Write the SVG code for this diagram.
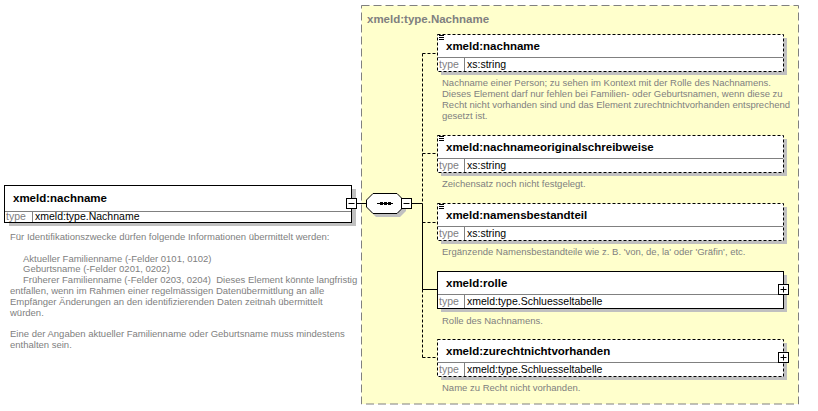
<svg xmlns="http://www.w3.org/2000/svg" width="818" height="411" viewBox="0 0 818 411">
<defs>
<style>
.yellow{fill:#FFFFCC;stroke:#808080;stroke-width:1;stroke-dasharray:8,4}
.shadow{fill:#c0c0c0}
.box{fill:#fff;stroke:#000;stroke-width:1}
.opt{stroke-dasharray:3,2}
.div{stroke:#808080;stroke-width:1;fill:none}
.title{font-family:"Liberation Sans",Arial,sans-serif;font-size:11.5px;font-weight:bold;fill:#000}
.gtitle{font-family:"Liberation Sans",Arial,sans-serif;font-size:11.5px;font-weight:bold;fill:#808080}
.tl{font-family:"Liberation Sans",Arial,sans-serif;font-size:10.5px;fill:#808080}
.tv{font-family:"Liberation Sans",Arial,sans-serif;font-size:10.5px;fill:#000}
.desc{font-family:"Liberation Sans",Arial,sans-serif;font-size:9.5px;fill:#808080;white-space:pre}
.conn{stroke:#000;stroke-width:1;fill:none}
.dash{stroke-dasharray:3,2}
.btn{fill:#fff;stroke:#000;stroke-width:1}
.ico{stroke:#000;stroke-width:1}
</style>
</defs>
<rect x="0" y="0" width="818" height="411" fill="#fff"/>

<g id="type-Nachname">
<rect class="yellow" x="361.5" y="5.5" width="437" height="398.5"/>
<text class="gtitle" x="367" y="23">xmeld:type.Nachname</text>
</g>

<g id="connectors">
<line class="conn" x1="356.5" y1="203.5" x2="367" y2="203.5"/>
<line class="conn" x1="411.5" y1="203.5" x2="422.5" y2="203.5"/>
<line class="conn dash" x1="422.5" y1="53.5" x2="422.5" y2="203.5"/>
<line class="conn" x1="422.5" y1="203.5" x2="422.5" y2="289.5"/>
<line class="conn dash" x1="422.5" y1="289.5" x2="422.5" y2="357.5"/>
<line class="conn dash" x1="422.5" y1="53.5" x2="437" y2="53.5"/>
<line class="conn dash" x1="422.5" y1="153.5" x2="437" y2="153.5"/>
<line class="conn dash" x1="422.5" y1="222.5" x2="437" y2="222.5"/>
<line class="conn" x1="422.5" y1="289.5" x2="437" y2="289.5"/>
<line class="conn dash" x1="422.5" y1="357.5" x2="437" y2="357.5"/>
</g>

<g id="root-nachname">
<rect class="shadow" x="9" y="189" width="347" height="37"/>
<rect class="box" x="4.5" y="185.5" width="347" height="37"/>
<line class="div" x1="5" y1="211.5" x2="351" y2="211.5"/>
<line class="div" x1="32.5" y1="212" x2="32.5" y2="222"/>
<text class="title" x="13" y="201.5">xmeld:nachname</text>
<text class="tl" x="6" y="219.5">type</text>
<text class="tv" x="35" y="219.5">xmeld:type.Nachname</text>
<rect class="btn" x="346.5" y="198.5" width="10" height="10"/>
<line class="ico" x1="348.5" y1="203.5" x2="354.5" y2="203.5"/>
<text class="desc" x="10" y="240">Für Identifikationszwecke dürfen folgende Informationen übermittelt werden:</text>
<text class="desc" x="23" y="261.6">Aktueller Familienname (-Felder 0101, 0102)</text>
<text class="desc" x="23" y="272.4">Geburtsname (-Felder 0201, 0202)</text>
<text class="desc" x="23" y="283.2">Früherer Familienname (-Felder 0203, 0204)  Dieses Element könnte langfristig</text>
<text class="desc" x="10" y="294">entfallen, wenn im Rahmen einer regelmässigen Datenübermittlung an alle</text>
<text class="desc" x="10" y="304.8">Empfänger Änderungen an den identifizierenden Daten zeitnah übermittelt</text>
<text class="desc" x="10" y="315.6">würden.</text>
<text class="desc" x="10" y="337.2">Eine der Angaben aktueller Familienname oder Geburtsname muss mindestens</text>
<text class="desc" x="10" y="348">enthalten sein.</text>
</g>

<g id="sequence">
<polygon class="shadow" points="376,197 400,197 406,203 406,211 400,217 376,217 370,211 370,203"/>
<polygon class="box" points="373,193.5 397,193.5 403.5,200 403.5,207 397,213.5 373,213.5 366.5,207 366.5,200"/>
<line class="conn" x1="377" y1="203.5" x2="393" y2="203.5"/>
<rect x="380" y="202" width="3" height="3" fill="#000"/>
<rect x="384" y="202" width="3" height="3" fill="#000"/>
<rect x="388" y="202" width="3" height="3" fill="#000"/>
<rect class="btn" x="401.5" y="198.5" width="10" height="10"/>
<line class="ico" x1="403.5" y1="203.5" x2="409.5" y2="203.5"/>
</g>

<g id="el-nachname">
<rect class="shadow" x="441" y="38" width="346" height="37"/>
<rect class="box opt" x="437.5" y="34.5" width="346" height="37"/>
<line class="div" x1="438" y1="57.5" x2="783" y2="57.5"/>
<line class="div" x1="464.5" y1="58" x2="464.5" y2="71"/>
<line class="ico" x1="439" y1="35.5" x2="444" y2="35.5"/>
<line class="ico" x1="439" y1="37.5" x2="444" y2="37.5"/>
<line class="ico" x1="439" y1="39.5" x2="444" y2="39.5"/>
<text class="title" x="446" y="49.5">xmeld:nachname</text>
<text class="tl" x="439" y="68">type</text>
<text class="tv" x="467" y="68">xs:string</text>
<text class="desc" x="442" y="86">Nachname einer Person; zu sehen im Kontext mit der Rolle des Nachnamens.</text>
<text class="desc" x="442" y="97">Dieses Element darf nur fehlen bei Familien- oder Geburtsnamen, wenn diese zu</text>
<text class="desc" x="442" y="108">Recht nicht vorhanden sind und das Element zurechtnichtvorhanden entsprechend</text>
<text class="desc" x="442" y="119">gesetzt ist.</text>
</g>

<g id="el-nachnameoriginalschreibweise">
<rect class="shadow" x="441" y="139" width="346" height="37"/>
<rect class="box opt" x="437.5" y="135.5" width="346" height="37"/>
<line class="div" x1="438" y1="158.5" x2="783" y2="158.5"/>
<line class="div" x1="464.5" y1="159" x2="464.5" y2="172"/>
<line class="ico" x1="439" y1="136.5" x2="444" y2="136.5"/>
<line class="ico" x1="439" y1="138.5" x2="444" y2="138.5"/>
<line class="ico" x1="439" y1="140.5" x2="444" y2="140.5"/>
<text class="title" x="446" y="150.5">xmeld:nachnameoriginalschreibweise</text>
<text class="tl" x="439" y="169">type</text>
<text class="tv" x="467" y="169">xs:string</text>
<text class="desc" x="442" y="187">Zeichensatz noch nicht festgelegt.</text>
</g>

<g id="el-namensbestandteil">
<rect class="shadow" x="441" y="207" width="346" height="37"/>
<rect class="box opt" x="437.5" y="203.5" width="346" height="37"/>
<line class="div" x1="438" y1="226.5" x2="783" y2="226.5"/>
<line class="div" x1="464.5" y1="227" x2="464.5" y2="240"/>
<line class="ico" x1="439" y1="204.5" x2="444" y2="204.5"/>
<line class="ico" x1="439" y1="206.5" x2="444" y2="206.5"/>
<line class="ico" x1="439" y1="208.5" x2="444" y2="208.5"/>
<text class="title" x="446" y="218.5">xmeld:namensbestandteil</text>
<text class="tl" x="439" y="237">type</text>
<text class="tv" x="467" y="237">xs:string</text>
<text class="desc" x="442" y="255">Ergänzende Namensbestandteile wie z. B. 'von, de, la' oder 'Gräfin', etc.</text>
</g>

<g id="el-rolle">
<rect class="shadow" x="441" y="275" width="346" height="37"/>
<rect class="box" x="437.5" y="271.5" width="346" height="37"/>
<line class="div" x1="438" y1="294.5" x2="783" y2="294.5"/>
<line class="div" x1="464.5" y1="295" x2="464.5" y2="308"/>
<text class="title" x="446" y="286.5">xmeld:rolle</text>
<text class="tl" x="439" y="305">type</text>
<text class="tv" x="467" y="305">xmeld:type.Schluesseltabelle</text>
<rect class="btn" x="778.5" y="284.5" width="10" height="10"/>
<line class="ico" x1="780.5" y1="289.5" x2="786.5" y2="289.5"/>
<line class="ico" x1="783.5" y1="286.5" x2="783.5" y2="292.5"/>
<text class="desc" x="442" y="324">Rolle des Nachnamens.</text>
</g>

<g id="el-zurechtnichtvorhanden">
<rect class="shadow" x="441" y="343" width="346" height="37"/>
<rect class="box opt" x="437.5" y="339.5" width="346" height="37"/>
<line class="div" x1="438" y1="362.5" x2="783" y2="362.5"/>
<line class="div" x1="464.5" y1="363" x2="464.5" y2="376"/>
<text class="title" x="446" y="354.5">xmeld:zurechtnichtvorhanden</text>
<text class="tl" x="439" y="373">type</text>
<text class="tv" x="467" y="373">xmeld:type.Schluesseltabelle</text>
<rect class="btn" x="778.5" y="352.5" width="10" height="10"/>
<line class="ico" x1="780.5" y1="357.5" x2="786.5" y2="357.5"/>
<line class="ico" x1="783.5" y1="354.5" x2="783.5" y2="360.5"/>
<text class="desc" x="442" y="391">Name zu Recht nicht vorhanden.</text>
</g>
</svg>
